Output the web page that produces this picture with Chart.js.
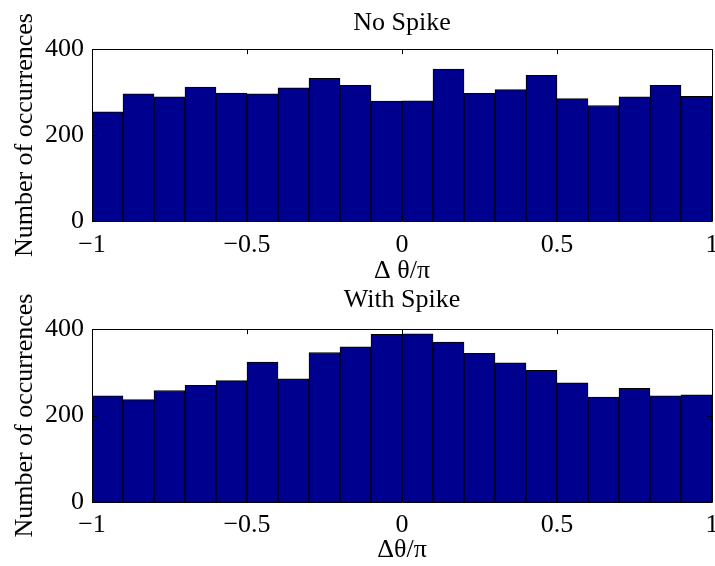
<!DOCTYPE html>
<html>
<head>
<meta charset="utf-8">
<script src="https://cdn.jsdelivr.net/npm/chart.js@4"></script>
<style>
  body { margin: 0; background: #fff; }
  #wrap { position: relative; width: 715px; height: 566px; }
  canvas { position: absolute; left: 0; }
  #topHist { top: 0; }
  #bottomHist { top: 281px; }
</style>
</head>
<body>
<div id="wrap">
  <canvas id="topHist" width="715" height="284"></canvas>
  <canvas id="bottomHist" width="715" height="285"></canvas>
</div>
<script>
// bin centres of the 20 histogram bins (Δθ/π)
const binCenters = [-0.95, -0.85, -0.75, -0.65, -0.55, -0.45, -0.35, -0.25, -0.15, -0.05,
                    0.05, 0.15, 0.25, 0.35, 0.45, 0.55, 0.65, 0.75, 0.85, 0.95];
const noSpike = [254, 296, 289, 312, 298, 296, 310, 332, 316, 279,
                 280, 354, 297, 306, 339, 285, 269, 289, 316, 290];
const withSpike = [246, 237, 258, 270, 281, 324, 285, 346, 359, 388,
                   389, 370, 344, 322, 305, 276, 243, 263, 246, 248];
const xTickValues = [-1, -0.5, 0, 0.5, 1];
const yTickValues = [0, 200, 400];

const serif = 'Liberation Serif, Times New Roman, serif';
const barColor = '#00008f';

// matlab style box with inward ticks
const boxPlugin = {
    id: 'matlabBox',
    afterDatasetsDraw(chart) {
        const { ctx, chartArea: a, scales } = chart;
        const tl = 5;
        ctx.save();
        ctx.strokeStyle = '#000';
        ctx.lineWidth = 1;
        ctx.beginPath();
        ctx.rect(Math.round(a.left) + 0.5, Math.round(a.top) + 0.5,
                 Math.round(a.right - a.left), Math.round(a.bottom - a.top));
        xTickValues.forEach(v => {
            const px = Math.round(scales.x.getPixelForValue(v)) + 0.5;
            ctx.moveTo(px, a.bottom); ctx.lineTo(px, a.bottom - tl);
            ctx.moveTo(px, a.top); ctx.lineTo(px, a.top + tl);
        });
        yTickValues.forEach(v => {
            const py = Math.round(scales.y.getPixelForValue(v)) + 0.5;
            ctx.moveTo(a.left, py); ctx.lineTo(a.left + tl, py);
            ctx.moveTo(a.right, py); ctx.lineTo(a.right - tl, py);
        });
        ctx.stroke();
        ctx.restore();
    }
};

const fmtX = v => (v < 0 ? '\u2212' + Math.abs(v) : String(v));

const makeHist = (id, values, title, titlePad, xLabel, xHeight, xLabelPad, xTickPad) => {
    return new Chart(document.getElementById(id), {
        type: 'bar',
        data: {
            datasets: [{
                data: binCenters.map((c, i) => ({ x: c, y: values[i] })),
                backgroundColor: barColor,
                borderColor: '#000',
                borderWidth: 1,
                barPercentage: 1,
                categoryPercentage: 1
            }]
        },
        options: {
            responsive: false,
            animation: false,
            layout: { padding: { left: 0, right: 3, top: 0, bottom: 0 } },
            plugins: {
                legend: { display: false },
                tooltip: { enabled: false },
                title: {
                    display: true,
                    fullSize: false,
                    text: title,
                    color: '#000',
                    font: { family: serif, size: 26, weight: 'normal', lineHeight: 1.2 },
                    padding: titlePad
                }
            },
            scales: {
                x: {
                    type: 'linear',
                    min: -1,
                    max: 1,
                    offset: false,
                    grid: { display: false, offset: false },
                    border: { display: false },
                    afterBuildTicks: scale => {
                        scale.ticks = xTickValues.map(v => ({ value: v }));
                    },
                    afterFit: scale => {
                        scale.height = xHeight;
                        scale.paddingLeft = 0;
                        scale.paddingRight = 0;
                    },
                    ticks: {
                        color: '#000',
                        font: { family: serif, size: 26 },
                        padding: xTickPad,
                        maxRotation: 0,
                        autoSkip: false,
                        callback: fmtX
                    },
                    title: {
                        display: true,
                        text: xLabel,
                        color: '#000',
                        font: { family: serif, size: 26, lineHeight: 1 },
                        padding: { top: 0, bottom: xLabelPad }
                    }
                },
                y: {
                    min: 0,
                    max: 400,
                    grid: { display: false },
                    border: { display: false },
                    afterBuildTicks: scale => {
                        scale.ticks = yTickValues.map(v => ({ value: v }));
                    },
                    afterFit: scale => {
                        scale.width = 92;
                        scale.paddingTop = 0;
                        scale.paddingBottom = 0;
                    },
                    ticks: {
                        color: '#000',
                        font: { family: serif, size: 26 },
                        padding: 0
                    },
                    title: {
                        display: true,
                        text: 'Number of occurrences',
                        color: '#000',
                        font: { family: serif, size: 26, lineHeight: 1 },
                        padding: { top: 12, bottom: 0 }
                    }
                }
            }
        },
        plugins: [boxPlugin]
    });
};

makeHist('topHist', noSpike, 'No Spike', { top: 8, bottom: 10 }, '\u0394 \u03b8/\u03c0', 63, 0, 1);
makeHist('bottomHist', withSpike, 'With Spike', { top: 4, bottom: 13 }, '\u0394\u03b8/\u03c0', 64, 3, 0);
</script>
</body>
</html>
